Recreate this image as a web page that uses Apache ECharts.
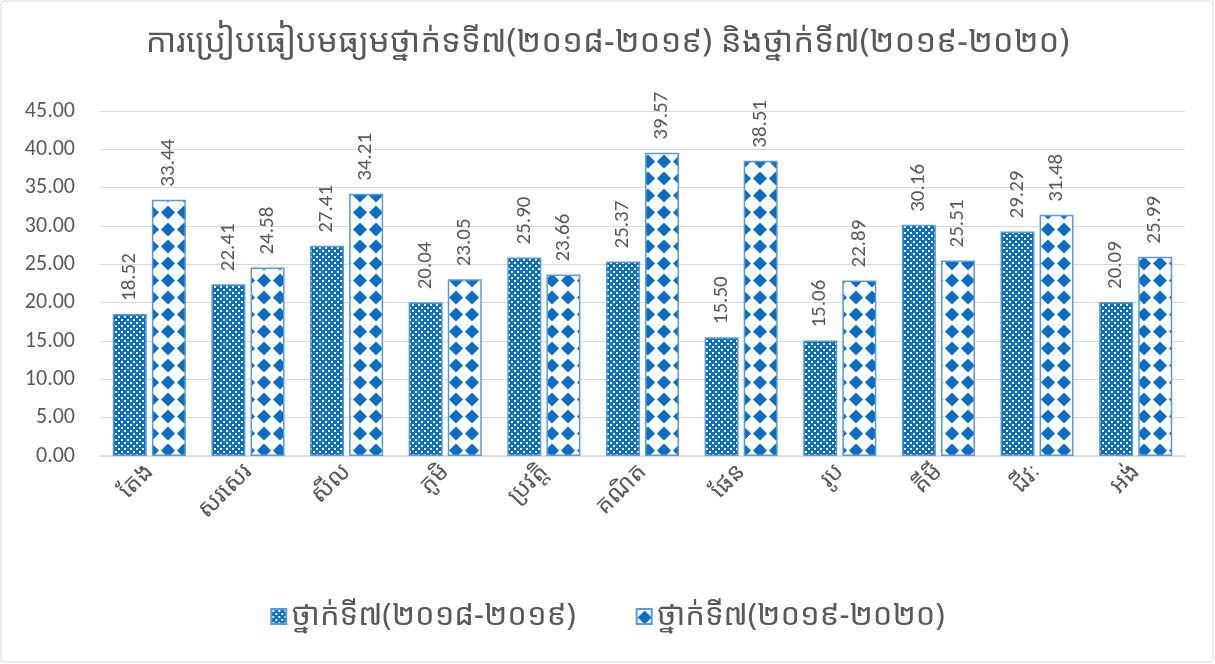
<!DOCTYPE html>
<html>
<head>
<meta charset="utf-8">
<script src="https://cdn.jsdelivr.net/npm/echarts@6/dist/echarts.min.js"></script>
<style>
html,body{margin:0;padding:0;background:#fff;}
#chart{width:1215px;height:664px;}
</style>
</head>
<body>
<div id="chart"></div>
<script>
const titleText = 'ការប្រៀបធៀបមធ្យមថ្នាក់ទទី៧(២០១៨-២០១៩) និងថ្នាក់ទី៧(២០១៩-២០២០)';
const categories = ['តែង','សរសេរ','សីល','ភូមិ','ប្រវត្តិ','គណិត','ផែន','រូប','គីមី','ជីវៈ','អង់'];
const seriesNames = ['ថ្នាក់ទី៧(២០១៨-២០១៩)','ថ្នាក់ទី៧(២០១៩-២០២០)'];
const grade7_2018 = [18.52, 22.41, 27.41, 20.04, 25.90, 25.37, 15.50, 15.06, 30.16, 29.29, 20.09];
const grade7_2019 = [33.44, 24.58, 34.21, 23.05, 23.66, 39.57, 38.51, 22.89, 25.51, 31.48, 25.99];

const FONT = "'Noto Sans Khmer','Khmer OS','Khmer OS System','Leelawadee UI','DejaVu Sans','Noto Sans',sans-serif";
const NUMFONT = "Carlito,'Open Sans','Noto Sans',sans-serif";
const TXT = '#595959';

function makeFine(){
  const c = document.createElement('canvas'); c.width = 6; c.height = 6;
  const g = c.getContext('2d');
  g.fillStyle = '#0a6fc2'; g.fillRect(0,0,6,6);
  g.fillStyle = '#ffffff';
  g.fillRect(1,1,2,2); g.fillRect(4,4,2,2);
  return c;
}
function makeDiamond(){
  const c = document.createElement('canvas'); c.width = 16; c.height = 17;
  const g = c.getContext('2d');
  g.fillStyle = '#ffffff'; g.fillRect(0,0,16,17);
  g.fillStyle = '#0a6fc2';
  g.beginPath();
  g.moveTo(8,1.5); g.lineTo(15,8.5); g.lineTo(8,15.5); g.lineTo(1,8.5); g.closePath();
  g.fill();
  return c;
}
const pat1 = {image: makeFine(), repeat: 'repeat'};
const pat2 = {image: makeDiamond(), repeat: 'repeat'};

const chart = echarts.init(document.getElementById('chart'), null, {renderer:'canvas'});
const lbl = {
  show: true, position: 'top', rotate: 90, align: 'left', verticalAlign: 'middle',
  distance: 13, color: TXT, fontSize: 21, fontFamily: NUMFONT,
  formatter: p => p.value.toFixed(2)
};
chart.setOption({
  backgroundColor: '#fff',
  textStyle: {fontFamily: FONT},
  title: {
    text: titleText, left: 'center', top: 21,
    textStyle: {color: TXT, fontSize: 33, fontWeight: 'normal', fontFamily: FONT}
  },
  graphic: [{
    type: 'rect', shape: {x: 1, y: 1, width: 1212, height: 661, r: 3},
    style: {fill: 'none', stroke: '#d9d9d9', lineWidth: 1}, silent: true, z: -1
  }],
  legend: {
    data: seriesNames, bottom: 27, left: 'center', itemGap: 60,
    itemWidth: 15, itemHeight: 15, icon: 'rect',
    textStyle: {color: TXT, fontSize: 31, fontFamily: FONT}
  },
  grid: {left: 100, right: 30, top: 111, bottom: 208, containLabel: false},
  xAxis: {
    type: 'category', data: categories,
    axisLine: {lineStyle: {color: '#d9d9d9', width: 1.5}},
    axisTick: {show: false},
    axisLabel: {rotate: 45, color: TXT, fontSize: 24, margin: 12, fontFamily: FONT, interval: 0}
  },
  yAxis: {
    type: 'value', min: 0, max: 45, interval: 5,
    axisLine: {show: false}, axisTick: {show: false},
    splitLine: {lineStyle: {color: '#d9d9d9', width: 1}},
    axisLabel: {color: TXT, fontSize: 22, margin: 25, formatter: v => v.toFixed(2), fontFamily: NUMFONT}
  },
  series: [
    {
      name: seriesNames[0], type: 'bar', data: grade7_2018,
      barWidth: 34, barGap: '15%',
      itemStyle: {color: pat1, borderColor: '#5b9bd5', borderWidth: 1.5},
      label: lbl
    },
    {
      name: seriesNames[1], type: 'bar', data: grade7_2019,
      barWidth: 34,
      itemStyle: {color: pat2, borderColor: '#5b9bd5', borderWidth: 1.5},
      label: lbl
    }
  ]
});
</script>
</body>
</html>
